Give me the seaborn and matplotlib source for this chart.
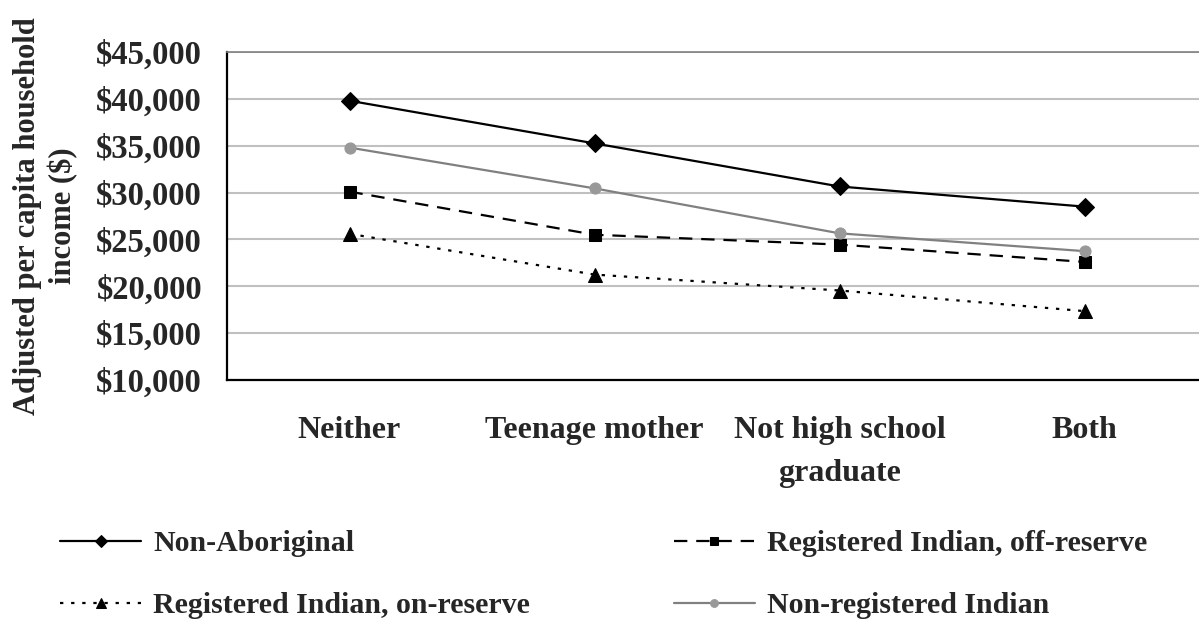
import pandas as pd
import matplotlib
matplotlib.use('Agg')
import matplotlib.pyplot as plt
import matplotlib.ticker as mticker
import seaborn as sns

categories = ['Neither', 'Teenage mother', 'Not high school\ngraduate', 'Both']
non_aboriginal = [39800, 35250, 30650, 28500]
reg_off_reserve = [30100, 25500, 24450, 22600]
reg_on_reserve = [25600, 21250, 19550, 17350]
non_registered = [34800, 30450, 25650, 23750]
yticks = [10000, 15000, 20000, 25000, 30000, 35000, 40000, 45000]

series = {
    'Non-Aboriginal': non_aboriginal,
    'Registered Indian, off-reserve': reg_off_reserve,
    'Registered Indian, on-reserve': reg_on_reserve,
    'Non-registered Indian': non_registered,
}

# formato longo para o seaborn
rows = []
for name, vals in series.items():
    for cat, v in zip(categories, vals):
        rows.append({'category': cat, 'income': v, 'series': name})
df = pd.DataFrame(rows)

sns.set_style('white')
plt.rcParams['font.family'] = ['Liberation Serif', 'DejaVu Serif']
plt.rcParams['font.weight'] = 'bold'

styles = {
    'Non-Aboriginal': dict(color='black', marker='D', markersize=9, linestyle='-', mfc='black', mec='black'),
    'Registered Indian, off-reserve': dict(color='black', marker='s', markersize=9, linestyle=(0, (6, 4)), mfc='black', mec='black'),
    'Registered Indian, on-reserve': dict(color='black', marker='^', markersize=10, linestyle=(0, (1.5, 3.5)), mfc='black', mec='black'),
    'Non-registered Indian': dict(color='#808080', marker='o', markersize=8, linestyle='-', mfc='#999999', mec='#999999'),
}

fig = plt.figure(figsize=(11.99, 6.2), dpi=100)
ax = fig.add_axes([227 / 1199, 1 - 380 / 620, 980 / 1199, 328 / 620])

for name in series:
    st = styles[name]
    sns.lineplot(data=df[df['series'] == name], x='category', y='income', ax=ax,
                 color=st['color'], marker=st['marker'], markersize=st['markersize'],
                 markerfacecolor=st['mfc'], markeredgecolor=st['mec'],
                 linestyle=st['linestyle'], linewidth=1.6, label=name,
                 legend=False, sort=False)

ax.set_xlim(-0.5, 3.5)
ax.set_ylim(10000, 45000)
ax.set_yticks(yticks)
ax.yaxis.set_major_formatter(mticker.FuncFormatter(lambda v, p: f'${v:,.0f}'))
ax.grid(axis='y', color='#c0c0c0', linewidth=1.5)
ax.set_axisbelow(True)

# ticks nas divisas das categorias, labels no meio
ax.set_xticks([-0.5, 0.5, 1.5, 2.5, 3.5])
ax.set_xticklabels([])
ax.set_xticks(range(len(categories)), minor=True)
ax.set_xticklabels(categories, minor=True, fontsize=23, fontweight='bold', linespacing=1.63)
ax.tick_params(axis='x', which='major', direction='out', length=9, width=1.2, color='black')
ax.tick_params(axis='x', which='minor', length=0, pad=26)
ax.tick_params(axis='y', direction='out', length=8.4, width=1.2, color='black', labelsize=23.5, pad=9.6)
for lab in ax.get_yticklabels():
    lab.set_fontweight('bold')

for s in ['left', 'bottom']:
    ax.spines[s].set_color('black')
    ax.spines[s].set_linewidth(1.6)
ax.spines['top'].set_color('#808080')
ax.spines['top'].set_linewidth(1.2)
ax.spines['right'].set_visible(False)

ax.set_xlabel('')
ax.set_ylabel('Adjusted per capita household\nincome ($)', fontsize=22, fontweight='bold',
              labelpad=13, linespacing=1.27)

handles, labels = ax.get_legend_handles_labels()
order = [0, 2, 1, 3]
fig.legend([handles[i] for i in order], [labels[i] for i in order],
           loc='lower left', bbox_to_anchor=(0.028, -0.042), ncol=2, frameon=False,
           prop={'size': 21.5, 'weight': 'bold'}, handlelength=2.7, handletextpad=0.4,
           columnspacing=4.83, labelspacing=1.17, markerscale=0.7)

fig.savefig('out.png', dpi=100)
